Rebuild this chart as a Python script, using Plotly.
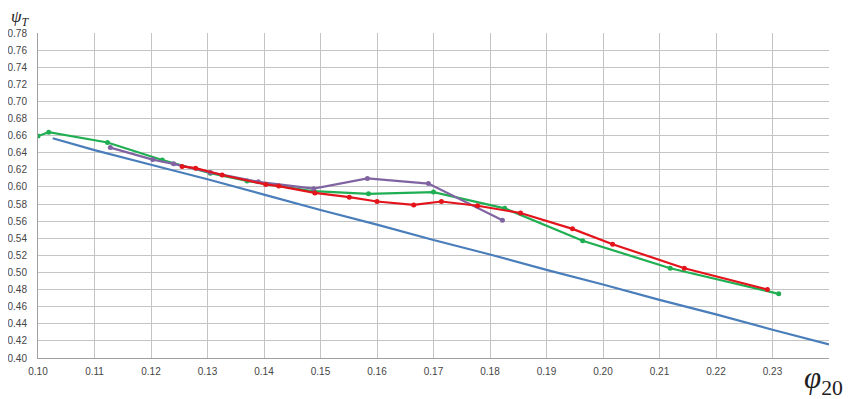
import plotly.graph_objects as go

# Blue reference line
blue_x = [0.1026, 0.11, 0.12, 0.13, 0.14, 0.15, 0.16, 0.17, 0.18, 0.19, 0.20, 0.21, 0.22, 0.23, 0.24]
blue_y = [0.657, 0.643, 0.626, 0.609, 0.591, 0.573, 0.556, 0.538, 0.521, 0.503, 0.486, 0.468, 0.451, 0.433, 0.416]

# Green series
green_x = [0.100, 0.1019, 0.1123, 0.122, 0.1305, 0.137, 0.1488, 0.1585, 0.170, 0.1826, 0.1964, 0.2119, 0.2311]
green_y = [0.6595, 0.664, 0.652, 0.6315, 0.616, 0.607, 0.595, 0.592, 0.594, 0.575, 0.537, 0.505, 0.475]

# Purple series
purple_x = [0.1128, 0.1203, 0.124, 0.1305, 0.139, 0.1488, 0.1583, 0.1691, 0.1822]
purple_y = [0.646, 0.632, 0.627, 0.617, 0.606, 0.598, 0.610, 0.604, 0.561]

# Red series
red_x = [0.1255, 0.1279, 0.1326, 0.1403, 0.1426, 0.149, 0.1551, 0.160, 0.1665, 0.1714, 0.1778, 0.1854, 0.1946, 0.2017, 0.2144, 0.2291]
red_y = [0.624, 0.622, 0.614, 0.603, 0.601, 0.593, 0.588, 0.583, 0.579, 0.583, 0.578, 0.5695, 0.551, 0.533, 0.505, 0.480]

x_ticks = [0.10, 0.11, 0.12, 0.13, 0.14, 0.15, 0.16, 0.17, 0.18, 0.19, 0.20, 0.21, 0.22, 0.23, 0.24]
x_ticktext = ["0.10", "0.11", "0.12", "0.13", "0.14", "0.15", "0.16", "0.17", "0.18", "0.19", "0.20", "0.21", "0.22", "0.23", ""]
y_ticks = [round(0.40 + 0.02 * i, 2) for i in range(20)]

fig = go.Figure()
fig.add_trace(go.Scatter(x=blue_x, y=blue_y, mode="lines",
                         line=dict(color="#4A7EBB", width=2.2), showlegend=False))
fig.add_trace(go.Scatter(x=green_x, y=green_y, mode="lines+markers",
                         line=dict(color="#1FAF52", width=2.2),
                         marker=dict(size=5, color="#1FAF52"), showlegend=False))
fig.add_trace(go.Scatter(x=purple_x, y=purple_y, mode="lines+markers",
                         line=dict(color="#8064A2", width=2.2),
                         marker=dict(size=5, color="#8064A2"), showlegend=False))
fig.add_trace(go.Scatter(x=red_x, y=red_y, mode="lines+markers",
                         line=dict(color="#E3141B", width=2.2),
                         marker=dict(size=5, color="#E3141B"), showlegend=False))

fig.update_layout(
    width=843, height=391,
    margin=dict(l=29.5, r=22, t=25, b=41),
    paper_bgcolor="white", plot_bgcolor="white",
    font=dict(family="Liberation Sans", size=10, color="#454545"),
    xaxis=dict(range=[0.10, 0.24], tickvals=x_ticks, ticktext=x_ticktext,
               showgrid=True, gridcolor="#C4C4C4", gridwidth=1,
               showline=True, linecolor="#A0A0A0", zeroline=False,
               ticks="", ticklen=0, ticklabelstandoff=4, automargin=False),
    yaxis=dict(range=[0.40, 0.78], tickvals=y_ticks, tickformat=".2f",
               showgrid=True, gridcolor="#C4C4C4", gridwidth=1,
               showline=True, linecolor="#A0A0A0", zeroline=False,
               ticks="", ticklen=0, ticklabelstandoff=8, automargin=False),
    annotations=[
        dict(text="<i>ψ<sub>T</sub></i>", xref="paper", yref="paper",
             x=-0.0365, y=1.085, xanchor="left", yanchor="top", showarrow=False,
             font=dict(family="Liberation Serif", size=17, color="#202020")),
        dict(text="<i>φ</i><sub>20</sub>", xref="paper", yref="paper",
             x=0.966, y=-0.135, xanchor="left", yanchor="bottom", showarrow=False,
             font=dict(family="Liberation Serif", size=31, color="#202020")),
    ],
)

fig.write_html("out.html")
